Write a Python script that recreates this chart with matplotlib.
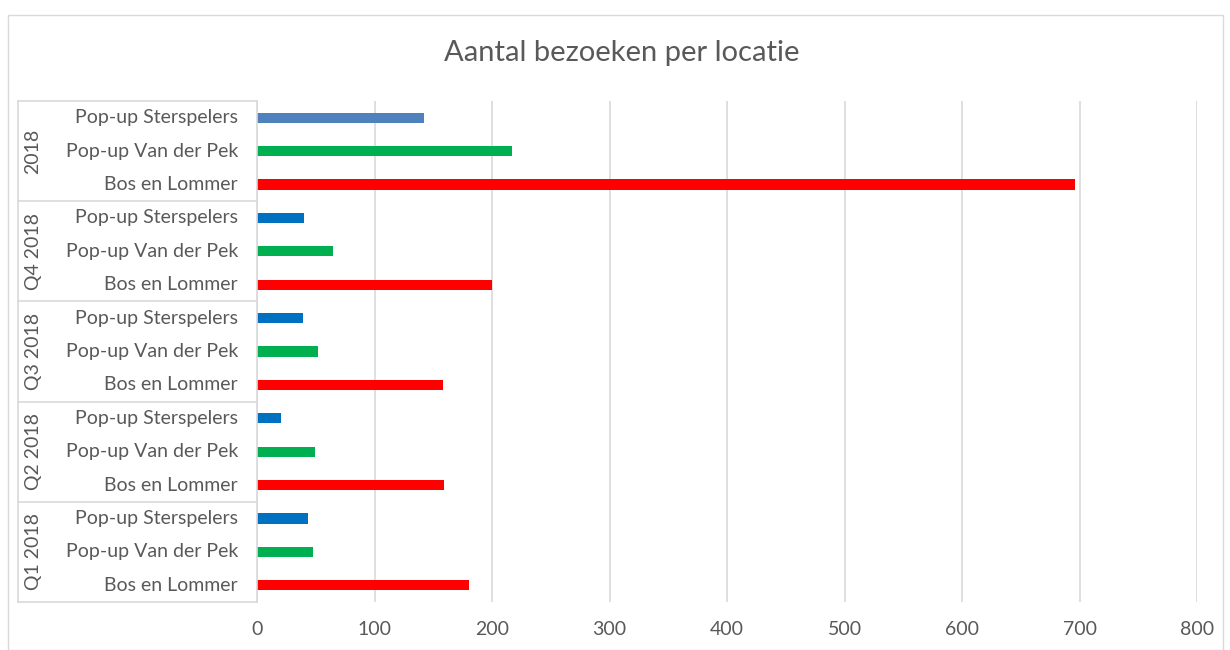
import matplotlib
matplotlib.use("Agg")
import matplotlib.pyplot as plt
from matplotlib.patches import Rectangle

plt.rcParams['font.family'] = ['Lato', 'DejaVu Sans']

groups = ['2018', 'Q4 2018', 'Q3 2018', 'Q2 2018', 'Q1 2018']
locations = ['Pop-up Sterspelers', 'Pop-up Van der Pek', 'Bos en Lommer']
sterspelers = [142, 40, 39, 20, 43]
vanderpek = [217, 65, 52, 49, 48]
bos = [696, 200, 158, 159, 180]
xticks = [0, 100, 200, 300, 400, 500, 600, 700, 800]

blue_total = '#4F81BD'
blue = '#0070C0'
green = '#00B050'
red = '#FF0000'
txt = '#595959'
grid = '#D9D9D9'
fs = 14

W, H = 1230, 650
fig = plt.figure(figsize=(W / 100, H / 100), dpi=100)
fig.patches.append(Rectangle((8 / W, 0), (1223 - 8) / W, (650 - 15) / H, transform=fig.transFigure,
                             fill=False, edgecolor=grid, lw=1))

left, right, top, bottom = 257, 1197, 101, 602
ax = fig.add_axes([left / W, 1 - bottom / H, (right - left) / W, (bottom - top) / H])

nrows = len(groups) * len(locations)
series = [sterspelers, vanderpek, bos]
for gi, g in enumerate(groups):
    for li, loc in enumerate(locations):
        y = gi * 3 + li
        col = [blue_total if gi == 0 else blue, green, red][li]
        ax.barh(y, series[li][gi], height=0.3, color=col)

ax.set_ylim(nrows - 0.5, -0.5)
ax.set_xlim(0, 800)
ax.set_xticks(xticks)
ax.set_xticklabels([str(v) for v in xticks], fontsize=fs, color=txt)
ax.tick_params(axis='x', length=0, pad=14)
ax.set_yticks([])
for s in ax.spines.values():
    s.set_visible(False)
ax.grid(axis='x', color=grid, lw=1.2)
ax.set_axisbelow(True)
ax.plot([0, 0], [0, 1], transform=ax.transAxes, color=grid, lw=1.2, clip_on=False)

# multi-level category labels
px = 1.0 / (right - left)
xl = (18 - left) * px
for gi, g in enumerate(groups):
    for li, loc in enumerate(locations):
        y = gi * 3 + li
        ax.text(-19 * px, y, loc, transform=ax.get_yaxis_transform(), ha='right', va='center',
                fontsize=fs, color=txt)
    ax.text((33 - left) * px, gi * 3 + 1, g, transform=ax.get_yaxis_transform(), ha='center',
            va='center', rotation=90, fontsize=fs, color=txt)
for b in range(len(groups) + 1):
    ax.plot([xl, 0], [b * 3 - 0.5] * 2, transform=ax.get_yaxis_transform(), color=grid,
            lw=1.2, clip_on=False)
ax.plot([xl, xl], [-0.5, nrows - 0.5], transform=ax.get_yaxis_transform(), color=grid,
        lw=1.2, clip_on=False)

fig.text(622 / W, 1 - 53 / H, 'Aantal bezoeken per locatie', ha='center', va='center',
         fontsize=21, color=txt)

fig.savefig('out.png', dpi=100)
